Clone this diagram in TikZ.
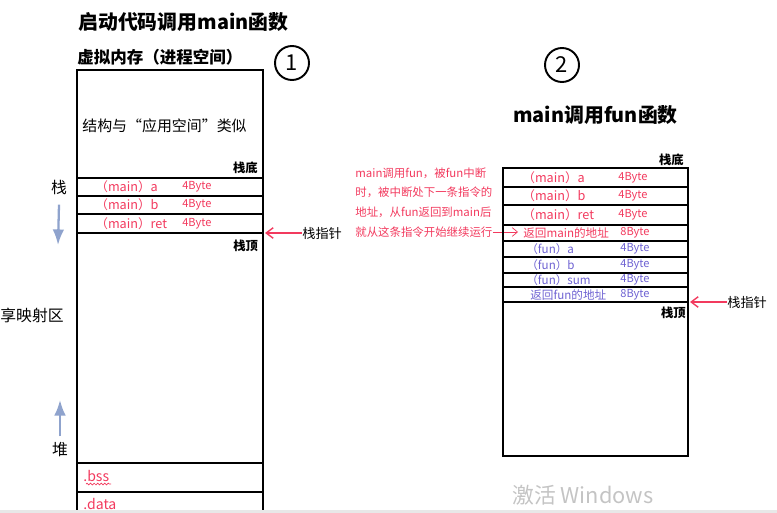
\documentclass[tikz,border=0pt]{standalone}
\usepackage{fontspec}
\setmainfont{Noto Sans CJK SC}
\usetikzlibrary{arrows.meta,positioning,decorations.pathmorphing}
\definecolor{StackRed}{HTML}{F23A5E}
\definecolor{StackPurple}{HTML}{6E62D2}
\definecolor{GrowBlue}{HTML}{8FA3CD}
\definecolor{MarkGray}{HTML}{C4C4C4}

\begin{document}
\begin{tikzpicture}[x=0.02cm,y=-0.02cm,>=Latex,
  lbl/.style={anchor=west,inner sep=0pt},
  heading/.style={lbl,font=\fontsize{11.3}{13}\selectfont\bfseries},
  sidetext/.style={inner sep=0pt,font=\fontsize{9}{10}\selectfont},
  mainrow/.style={lbl,text=StackRed,font=\fontsize{7.2}{8}\selectfont},
  funrow/.style={lbl,text=StackPurple,font=\fontsize{6.6}{8}\selectfont},
  bytes/.style={lbl,font=\fontsize{6.3}{8}\selectfont},
  stackend/.style={lbl,font=\fontsize{7}{8}\selectfont\bfseries},
  notetext/.style={lbl,text=StackRed,font=\fontsize{6.5}{8}\selectfont},
  stepno/.style={circle,draw,line width=1.1pt,minimum size=34*0.02cm,inner sep=0pt,
    font=\fontsize{12.5}{14}\selectfont},
  ptr/.style={-{Straight Barb[length=4pt,width=6pt]},draw=StackRed,thick},
  growarrow/.style={->,draw=GrowBlue,line width=1.3pt}]
  \useasboundingbox (0,0) rectangle (777,513);

  % step 1: virtual memory
  \node[heading] (title1) at (78,22) {启动代码调用main函数};
  \node[lbl,font=\fontsize{9.4}{11}\selectfont\bfseries] (vmem) at (77,57) {虚拟内存（进程空间）};
  \node[stepno] (c1) at (292,63) {1};
  \draw[line width=0.7pt] (77,510) -- (77,70) -- (263,70) -- (263,510);
  \foreach \y in {178,196,214,233,463,492} \draw[line width=0.7pt] (77,\y) -- (263,\y);
  \node[lbl,font=\fontsize{8.5}{10}\selectfont] (like) at (82,126) {结构与“应用空间”类似};
  \node[stackend,anchor=east] (bottom1) at (258,168) {栈底};
  \node[mainrow] (ma1) at (95,187) {（main）a};
  \node[mainrow] (mb1) at (95,205) {（main）b};
  \node[mainrow] (mr1) at (95,223.5) {（main）ret};
  \foreach \y in {187,205,223.5} \node[bytes,text=StackRed] at (182,\y) {4Byte};
  \node[stackend] (top1) at (233,246) {栈顶};
  \node[lbl,text=StackRed,font=\fontsize{8}{9}\selectfont] (bss) at (83,476) {.bss};
  \draw[StackRed,decorate,decoration={snake,amplitude=0.5pt,segment length=2pt}]
    (86,484) -- (111,484);
  \node[lbl,text=StackRed,font=\fontsize{8}{9}\selectfont] (data) at (83,504) {.data};
  \node[sidetext] (zhan) at (59,187) {栈};
  \coordinate (zhanend) at (58,245);
  \draw[growarrow] ([yshift=-0.2cm]zhan.south) -- (zhanend);
  \node[sidetext,anchor=east] (mmap) at (64,315) {享映射区};
  \node[sidetext] (dui) at (60,450) {堆};
  \coordinate (duiend) at (60,400);
  \draw[growarrow] ([yshift=0.12cm]dui.north) -- (duiend);
  \node[lbl,font=\fontsize{7.5}{9}\selectfont] (sp1) at (302,233) {栈指针};
  \coordinate (sp1tip) at (265,233);
  \draw[ptr] (sp1.west) ++(-0.18,0) -- (sp1tip);

  % note between the two steps
  \node[notetext] (note1) at (355,173) {main调用fun，被fun中断};
  \node[notetext] (note2) at (355,192.5) {时，被中断处下一条指令的};
  \node[notetext] (note3) at (355,212) {地址，从fun返回到main后};
  \node[notetext] (note4) at (355,232) {就从这条指令开始继续运行};
  \coordinate (notetip) at (518,232);
  \draw[-{Straight Barb[length=3pt,width=5pt]},StackRed] (note4.east) -- (notetip);

  % step 2: main calls fun
  \node[stepno] (c2) at (562,65) {2};
  \node[heading] (title2) at (513,115) {main调用fun函数};
  \draw[line width=0.7pt] (503,168) rectangle (688,456);
  \foreach \y in {187,205,225,241,257,273,287,302} \draw[line width=0.7pt] (503,\y) -- (688,\y);
  \node[stackend,anchor=east] (bottom2) at (684,160) {栈底};
  \node[mainrow] (ma2) at (522,177.5) {（main）a};
  \node[mainrow] (mb2) at (522,196) {（main）b};
  \node[mainrow] (mr2) at (522,215) {（main）ret};
  \node[mainrow,font=\fontsize{6.6}{8}\selectfont] (rm) at (523,233) {返回main的地址};
  \foreach \y in {177.5,196,215} \node[bytes,text=StackRed] at (618,\y) {4Byte};
  \node[bytes,text=StackRed] at (620,233) {8Byte};
  \node[funrow] (fa) at (526,249) {（fun）a};
  \node[funrow] (fb) at (526,265) {（fun）b};
  \node[funrow] (fs) at (526,280) {（fun）sum};
  \node[funrow] (rf) at (530,295) {返回fun的地址};
  \foreach \y/\s in {249/4,265/4,280/4,295/8} \node[bytes,text=StackPurple] at (620,\y) {\s Byte};
  \node[stackend,anchor=east] (top2) at (686,313) {栈顶};
  \node[lbl,font=\fontsize{7.5}{9}\selectfont] (sp2) at (727,302) {栈指针};
  \coordinate (sp2tip) at (690,302);
  \draw[ptr] (sp2.west) ++(-0.1,0) -- (sp2tip);

  % screen capture leftovers
  \node[lbl,text=MarkGray,font=\fontsize{12.4}{14}\selectfont] (wm) at (512,495) {激活 Windows};
  \fill[gray!18] (0,510) rectangle (777,513);
\end{tikzpicture}
\end{document}
